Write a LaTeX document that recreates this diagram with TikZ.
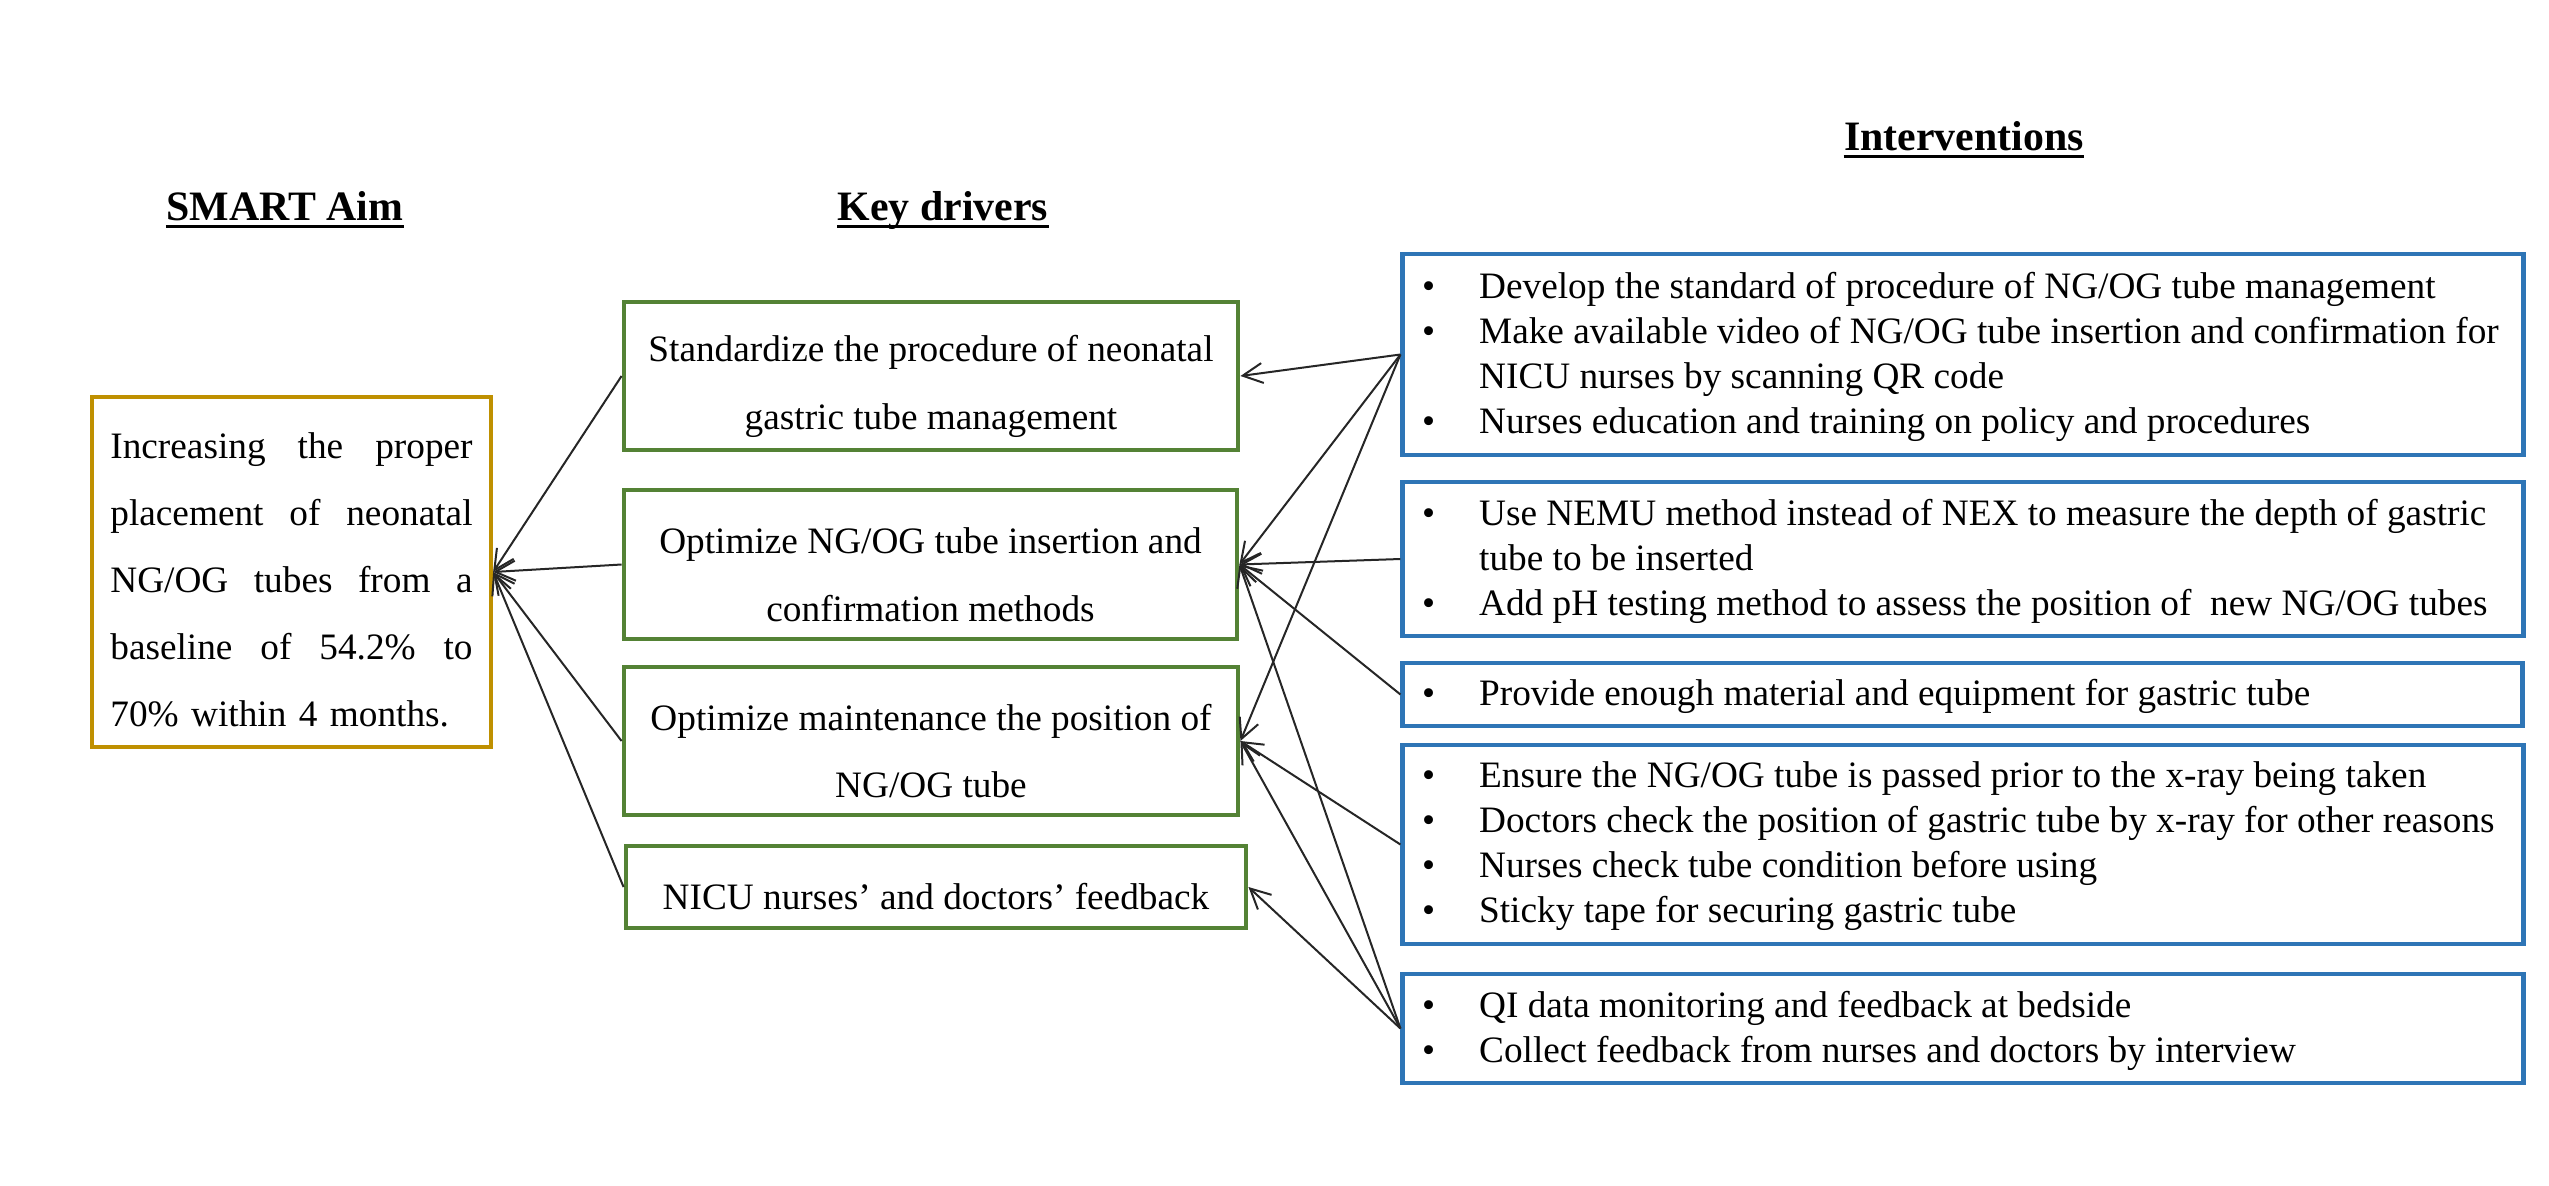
\documentclass[tikz,border=0pt]{standalone}
\usepackage{fontspec}
\setmainfont{Liberation Serif}
\usetikzlibrary{arrows.meta}
\definecolor{aimgold}{HTML}{BF9000}
\definecolor{drvgreen}{HTML}{548235}
\definecolor{intblue}{HTML}{2E75B6}
\newcommand{\bul}{\makebox[0.57cm][l]{\textbullet}}
\newcommand{\ind}{\hspace*{0.57cm}}
\begin{document}
\begin{tikzpicture}[x=0.01cm,y=-0.01cm,
  aimbox/.style={draw=aimgold,line width=0.04cm,inner sep=0pt},
  drvbox/.style={draw=drvgreen,line width=0.045cm,inner sep=0pt},
  intbox/.style={draw=intblue,line width=0.045cm,inner sep=0pt},
  aimtxt/.style={inner sep=0pt,text width=3.62cm,align=left,font=\fontsize{10.6}{19.07}\selectfont},
  drvtxt/.style={inner sep=0pt,align=center,font=\fontsize{10.6}{19.3}\selectfont},
  inttxt/.style={inner sep=0pt,align=left,anchor=west,font=\fontsize{10.6}{12.8}\selectfont},
  ttl/.style={inner sep=0pt,anchor=base,font=\bfseries\fontsize{11.9}{14}\selectfont},
  uline/.style={line width=0.025cm},
  conn/.style={line width=0.02cm,draw=black!85,-{Straight Barb[length=0.2cm,width=0.2cm]}}]
\useasboundingbox (0,0) rectangle (2549,1185);
% titles
\node[ttl] (t1) at (285,220) {SMART Aim};
\node[ttl] (t2) at (943,220) {Key drivers};
\node[ttl] (t3) at (1964,150) {Interventions};
\foreach \t in {t1,t2,t3}{
  \draw[uline] ([yshift=-0.065cm]\t.base west) -- ([yshift=-0.065cm]\t.base east);}
% aim
\node[aimbox,minimum width=3.99cm,minimum height=3.50cm] (aim) at (291.5,572) {};
\node[aimtxt] (aimt) at ([yshift=-0.075cm]aim.center) {Increasing\hfill the\hfill proper\\
placement\hfill of\hfill neonatal\\
NG/OG\hfill tubes\hfill from\hfill a\\
baseline\hfill of\hfill 54.2\%\hfill to\\
70\% within 4 months.};
% drivers
\node[drvbox,minimum width=6.14cm,minimum height=1.48cm] (d1) at (931,376) {};
\node[drvbox,minimum width=6.13cm,minimum height=1.49cm] (d2) at (930.5,564.5) {};
\node[drvbox,minimum width=6.14cm,minimum height=1.48cm] (d3) at (931,741) {};
\node[drvbox,minimum width=6.20cm,minimum height=0.82cm] (d4) at (936,887) {};
\node[drvtxt] (d1t) at ([yshift=-0.1cm]d1.center) {Standardize the procedure of neonatal\\gastric tube management};
\node[drvtxt] (d2t) at ([yshift=-0.1cm]d2.center) {Optimize NG/OG tube insertion and\\confirmation methods};
\node[drvtxt] (d3t) at ([yshift=-0.1cm]d3.center) {Optimize maintenance the position of\\NG/OG tube};
\node[drvtxt] (d4t) at ([yshift=-0.1cm]d4.center) {NICU nurses’ and doctors’ feedback};
% interventions
\node[intbox,minimum width=11.20cm,minimum height=2.01cm] (ia) at (1963,354.5) {};
\node[intbox,minimum width=11.20cm,minimum height=1.54cm] (ib) at (1963,559) {};
\node[intbox,minimum width=11.19cm,minimum height=0.63cm] (ic) at (1962.5,694.5) {};
\node[intbox,minimum width=11.20cm,minimum height=1.99cm] (id) at (1963,844.5) {};
\node[intbox,minimum width=11.20cm,minimum height=1.09cm] (ie) at (1963,1028.5) {};
\node[inttxt] (iat) at ([xshift=0.21cm,yshift=-0.02cm]ia.west) {\bul Develop the standard of procedure of NG/OG tube management\\
\bul Make available video of NG/OG tube insertion and confirmation for\\
\ind NICU nurses by scanning QR code\\
\bul Nurses education and training on policy and procedures};
\node[inttxt] (ibt) at ([xshift=0.21cm,yshift=-0.02cm]ib.west) {\bul Use NEMU method instead of NEX to measure the depth of gastric\\
\ind tube to be inserted\\
\bul Add pH testing method to assess the position of\ \ new NG/OG tubes};
\node[inttxt] (ict) at ([xshift=0.21cm,yshift=-0.02cm]ic.west) {\bul Provide enough material and equipment for gastric tube};
\node[inttxt] (idt) at ([xshift=0.21cm,yshift=-0.02cm]id.west) {\bul Ensure the NG/OG tube is passed prior to the x-ray being taken\\
\bul Doctors check the position of gastric tube by x-ray for other reasons\\
\bul Nurses check tube condition before using\\
\bul Sticky tape for securing gastric tube};
\node[inttxt] (iet) at ([xshift=0.21cm,yshift=-0.02cm]ie.west) {\bul QI data monitoring and feedback at bedside\\
\bul Collect feedback from nurses and doctors by interview};
% connectors drivers -> aim
\foreach \d in {d1,d2,d3,d4}{\draw[conn] (\d.west) -- (aim.east);}
% interventions -> drivers
\draw[conn] (ia.west) -- (d1.east);
\draw[conn] (ia.west) -- (d2.east);
\draw[conn] (ia.west) -- (d3.east);
\draw[conn] (ib.west) -- (d2.east);
\draw[conn] (ic.west) -- (d2.east);
\draw[conn] (id.west) -- (d3.east);
\draw[conn] (ie.west) -- (d2.east);
\draw[conn] (ie.west) -- (d3.east);
\draw[conn] (ie.west) -- (d4.east);
\end{tikzpicture}
\end{document}
